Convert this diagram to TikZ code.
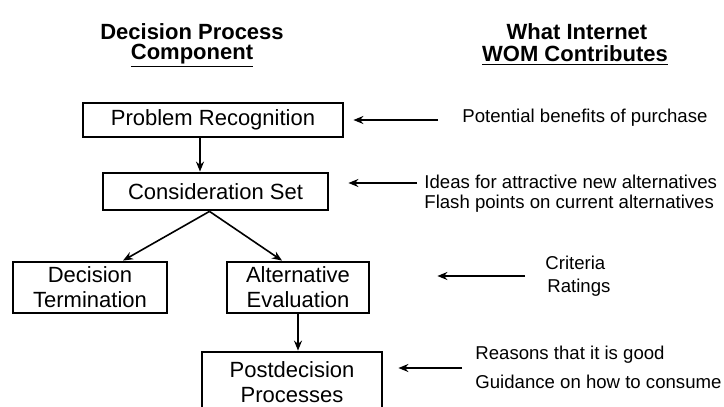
\documentclass[tikz,border=0pt]{standalone}
\usepackage{fontspec}
\setmainfont{Liberation Sans}
\usetikzlibrary{arrows.meta, positioning, calc}

\begin{document}
\begin{tikzpicture}[
                x=0.5pt, y=-0.5pt,
                stage/.style={draw, line width=1.4pt, align=center, inner sep=0pt, font=\fontsize{11}{12.5}\selectfont},
                heading/.style={align=center, font=\fontsize{11}{12}\selectfont\bfseries},
                contrib/.style={anchor=west, inner sep=0pt, font=\fontsize{9.3}{11}\selectfont},
                arrow/.style={-{Stealth[length=5pt, width=4pt]}, line width=0.8pt}
            ]

            % Frame
            \fill[white] (0,0) rectangle (724,407);
            \clip (0,0) rectangle (724,407);

            % Headings
            \node[heading] (leftHead) at (192,32) {Decision Process};
            \node[heading] (leftSub) at (192,56) {\underline{Component}};
            \node[heading] (rightHead) at (577,32) {What Internet};
            \node[heading] (rightSub) at (575,56) {\underline{WOM Contributes}};

            % Decision process stages
            \node[stage, minimum width=130pt, minimum height=17pt] (recog) at (213,120) {Problem Recognition};
            \node[stage, minimum width=112.5pt, minimum height=18.5pt] (consid) at (215.5,191.5) {Consideration Set};
            \node[stage, minimum width=77pt, minimum height=25.5pt] (termin) at (90,287.5) {Decision\\Termination};
            \node[stage, minimum width=71pt, minimum height=25.5pt] (evalu) at (298,287.5) {Alternative\\Evaluation};
            \node[stage, minimum width=90pt, minimum height=30pt] (postd) at (292,382) {Postdecision\\Processes};

            % Stage links
            \coordinate (linkX) at (200,0);
            \draw[arrow] (recog.south -| linkX) -- (consid.north -| linkX);
            \draw[arrow] ($(consid.south)+(-6,0)$) -- ($(termin.north)+(33,0)$);
            \draw[arrow] ($(consid.south)+(-6,0)$) -- ($(evalu.north)+(-16,0)$);
            \draw[arrow] (evalu.south) -- (evalu.south |- postd.north);

            % What internet WOM contributes
            \node[contrib] (benefits) at (462,118) {Potential benefits of purchase};
            \node[contrib] (ideas) at (424,182) {Ideas for attractive new alternatives};
            \node[contrib] (flash) at (424,204) {Flash points on current alternatives};
            \node[contrib] (criteria) at (545,263) {Criteria};
            \node[contrib] (ratings) at (547,288) {Ratings};
            \node[contrib] (reasons) at (475,355) {Reasons that it is good};
            \node[contrib] (guidance) at (475,382) {Guidance on how to consume};

            % Contribution arrows
            \coordinate (benefitsTail) at (438,120);
            \coordinate (ideasTail) at (417,183);
            \coordinate (criteriaTail) at (525,276);
            \coordinate (reasonsTail) at (462,368);
            \draw[arrow] (benefitsTail) -- ($(recog.east)+(9,0)$);
            \draw[arrow] (ideasTail) -- ($(consid.east |- ideasTail)+(19,0)$);
            \draw[arrow] (criteriaTail) -- ($(evalu.east |- criteriaTail)+(67,0)$);
            \draw[arrow] (reasonsTail) -- ($(postd.east |- reasonsTail)+(15,0)$);
\end{tikzpicture}
\end{document}
